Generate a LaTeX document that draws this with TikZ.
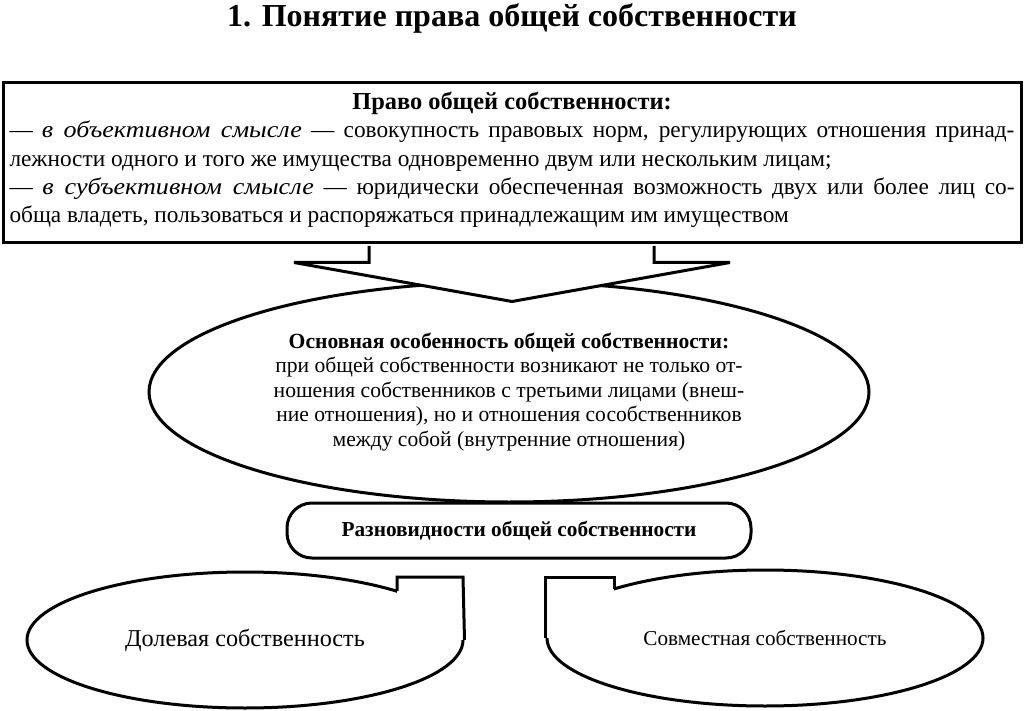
\documentclass[tikz,border=0pt]{standalone}
\usepackage{fontspec}
\setmainfont{Liberation Serif}[ItalicFeatures={FakeStretch=1.12}]
\usetikzlibrary{shapes.geometric,calc,positioning}
\tikzstyle{frame} =[draw, line width=3pt, fill=white, inner sep=0pt]
\tikzstyle{bubble}=[ellipse, draw, line width=3pt, fill=white,
                    inner sep=0pt]
\tikzstyle{tab}   =[line width=3pt]

\begin{document}
\begin{tikzpicture}[x=1pt,y=1pt]
    \useasboundingbox (0,0) rectangle (1024,710);

    % title
    \node[font=\fontsize{32}{38}\selectfont\bfseries] (title) at (512,692)
        {1. Понятие права общей собственности};

    % definition
    \node[frame, minimum width=1018pt, minimum height=160pt] (def) at (512,547) {};
    \node[font=\fontsize{23.3}{28.25}\selectfont, text width=1005pt,
        align=justify] (deftext) at (512,550)
        {\centerline{\fontsize{24.4}{28}\selectfont\bfseries Право общей собственности:}
        \noindent— \textit{в объективном смысле} — совокупность правовых норм, регулирующих отношения принад-\linebreak лежности одного и того же имущества одновременно двум или нескольким лицам;\\
        — \textit{в субъективном смысле} — юридически обеспеченная возможность двух или более лиц со-\linebreak обща владеть, пользоваться и распоряжаться принадлежащим им имуществом};

    % main feature
    \node[bubble, minimum width=720pt, minimum height=220pt, align=center,
        font=\fontsize{21.6}{24.5}\selectfont] (feature) at (509,318)
        {\textbf{Основная особенность общей собственности:}\\
        при общей собственности возникают не только от-\\
        ношения собственников с третьими лицами (внеш-\\
        ние отношения), но и отношения сособственников\\
        между собой (внутренние отношения)};

    \filldraw[tab, fill=white] ($(def.south)+(-143,-1.5)$) -- ++(0,-16.5)
        -- ++(-75,0) -- ($(def.south)+(0,-57)$) -- ($(def.south)+(218,-18)$)
        -- ++(-76,0) -- ++(0,16.5);

    % kinds
    \node[frame, rounded corners=25pt, minimum width=464pt, minimum height=55pt,
        font=\fontsize{21.3}{24}\selectfont\bfseries] (kinds) at (519,179.5)
        {Разновидности общей собственности};

    \node[bubble, minimum width=436pt, minimum height=136pt,
        font=\fontsize{24.2}{28}\selectfont] (shared) at (245,70)
        {Долевая собственность};
    \fill[white] (397,133) rectangle (shared.east);
    \draw[tab] (397,119) |- (463,133) -- (shared.east);

    \node[bubble, minimum width=436pt, minimum height=136pt,
        font=\fontsize{21.2}{24}\selectfont] (joint) at (765,72)
        {Совместная собственность};
    \fill[white] (joint.west) rectangle (614,133);
    \draw[tab] (joint.west) |- (614,133) -- (614,121);

\end{tikzpicture}
\end{document}
